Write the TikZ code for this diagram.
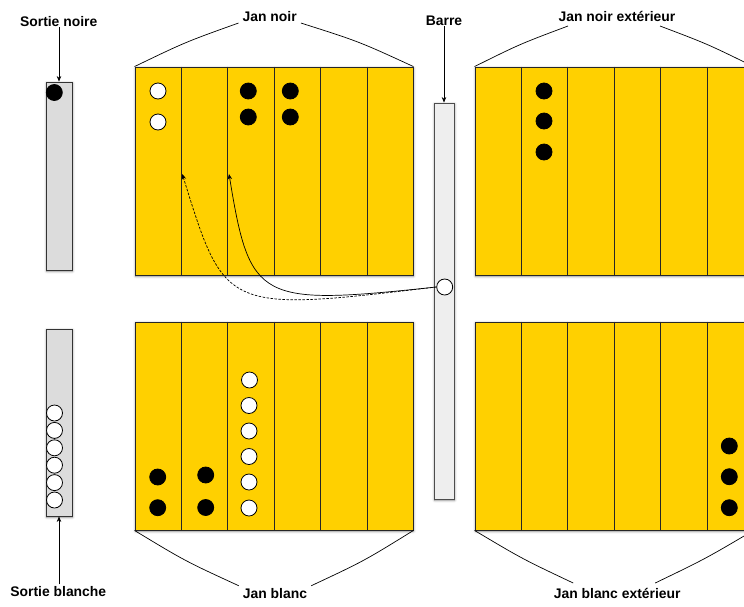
\documentclass[tikz,border=0pt]{standalone}
\usepackage{fontspec}
\setmainfont{Liberation Sans}
\usetikzlibrary{arrows.meta,shadows.blur,calc}
\definecolor{boardyellow}{RGB}{255,208,0}
\definecolor{sortiegray}{RGB}{220,220,220}
\definecolor{barregray}{RGB}{238,238,238}
\begin{document}
\begin{tikzpicture}[x=1pt,y=-1pt,
  font=\bfseries\fontsize{13.9pt}{16pt}\selectfont,
  softshadow/.style={blur shadow={shadow xshift=0.6pt, shadow yshift=-1.2pt, shadow blur radius=2.5pt, shadow blur steps=6, shadow opacity=45}},
  board/.style={draw=black!85, line width=0.9pt, fill=boardyellow, minimum width=278pt, minimum height=208pt, inner sep=0pt, softshadow},
  sortie/.style={draw=black!80, line width=0.9pt, fill=sortiegray, minimum width=26pt, inner sep=0pt, softshadow},
  barre/.style={draw=black!70, line width=0.9pt, fill=barregray, minimum width=20pt, minimum height=396pt, inner sep=0pt, softshadow},
  noir/.style={circle, draw=black, line width=0.8pt, fill=black, minimum size=16pt, inner sep=0pt},
  blanc/.style={circle, draw=black, line width=0.8pt, fill=white, minimum size=16pt, inner sep=0pt},
  lbl/.style={inner xsep=4pt, inner ysep=1pt, anchor=base},
  brace/.style={draw=black, line width=0.7pt},
  arr/.style={draw=black, line width=0.7pt, -{Stealth[length=5.5pt,width=4.5pt]}},
  divider/.style={draw=black!85, line width=0.9pt}
]
\useasboundingbox (0,0) rectangle (744,606);
\clip (0,0) rectangle (744,606);

% boards
\node[board] (JN)  at (274,171) {};
\node[board] (JNE) at (614,171) {};
\node[board] (JB)  at (274,426) {};
\node[board] (JBE) at (614,426) {};
\foreach \b in {JN,JNE,JB,JBE}{
  \foreach \k in {1,...,5}{
    \draw[divider] ($(\b.north west)!\k/6!(\b.north east)$) -- ($(\b.south west)!\k/6!(\b.south east)$);
  }
}

% side bars
\node[sortie, minimum height=188pt] (SN) at (59,176) {};
\node[sortie, minimum height=187pt] (SB) at (59,422.5) {};
\node[barre] (BA) at (444,301) {};

% labels
\node[lbl] (lSN)  at (58.7,26) {Sortie noire};
\node[lbl] (lBA)  at (444,25) {Barre};
\node[lbl] (lJN)  at (269.7,21.7) {Jan noir};
\node[lbl] (lJNE) at (617,21.7) {Jan noir extérieur};
\node[lbl, inner ysep=2pt] (lSB)  at (58.3,596.7) {Sortie blanche};
\node[lbl, inner ysep=2pt] (lJB)  at (275,598) {Jan blanc};
\node[lbl] (lJBE) at (617.2,598) {Jan blanc extérieur};

% label arrows
\draw[arr] (SN.north |- lSN.south) -- (SN.north);
\draw[arr] (SB.south |- lSB.north) -- (SB.south);
\draw[arr] (BA.north |- lBA.south) -- (BA.north);

% brace lines
\draw[brace] (JN.north west) .. controls (185.5,42) .. (lJN.south west);
\draw[brace] (lJN.south east) .. controls (359,41.5) .. (JN.north east);
\draw[brace] (JNE.north west) .. controls (520,44) .. ($(lJNE.base)+(-49,4.3)$);
\draw[brace] ($(lJNE.base)+(43,4.3)$) .. controls (707.5,44) .. (JNE.north east);
\draw[brace] (JB.south west) .. controls (185,561) .. (lJB.north west);
\draw[brace] (lJB.north east) .. controls (364,561) .. (JB.south east);
\draw[brace] (JBE.south west) .. controls (522.5,559) .. ($(lJBE.base)+(-44,-15)$);
\draw[brace] ($(lJBE.base)+(38,-15)$) .. controls (705,559) .. (JBE.south east);

% checkers: sortie noire
\node[noir] (sn1) at (54.3,92.5) {};
% sortie blanche
\foreach \i in {0,...,5}{
  \node[blanc] (sb\i) at (54.5,413+17.4*\i) {};
}
% jan noir
\node[blanc] (jnw1) at (158,91) {};
\node[blanc] (jnw2) at (158,122) {};
\node[noir] (jnb1) at (248.3,91) {};
\node[noir] (jnb2) at (248.3,117) {};
\node[noir] (jnb3) at (290.3,91) {};
\node[noir] (jnb4) at (290.3,117) {};
% jan noir exterieur
\node[noir] (jneb1) at (544,91) {};
\node[noir] (jneb2) at (544,121) {};
\node[noir] (jneb3) at (544,152) {};
% jan blanc
\node[noir] (jbb1) at (157.7,477) {};
\node[noir] (jbb2) at (157.7,507.7) {};
\node[noir] (jbb3) at (205.7,475) {};
\node[noir] (jbb4) at (205.7,507.5) {};
\node[blanc] (jbw1) at (249.5,380) {};
\node[blanc] (jbw2) at (249,405.5) {};
\node[blanc] (jbw3) at (249,431) {};
\node[blanc] (jbw4) at (249,456.5) {};
\node[blanc] (jbw5) at (249,482) {};
\node[blanc] (jbw6) at (249,508) {};
% jan blanc exterieur
\node[noir] (jbeb1) at (729.3,446) {};
\node[noir] (jbeb2) at (729.3,476.7) {};
\node[noir] (jbeb3) at (729.3,507.7) {};
% barre checker
\node[blanc] (bc) at (444.7,287) {};

% move arrows
\coordinate (t1) at (229,174);
\coordinate (t2) at (182.3,174);
\draw[arr] (bc.west) .. controls (258,306) and (250,302) .. (t1);
\draw[arr, dashed, dash pattern=on 2.5pt off 1.5pt] (bc.west) .. controls (225,312) .. (t2);
\end{tikzpicture}
\end{document}
